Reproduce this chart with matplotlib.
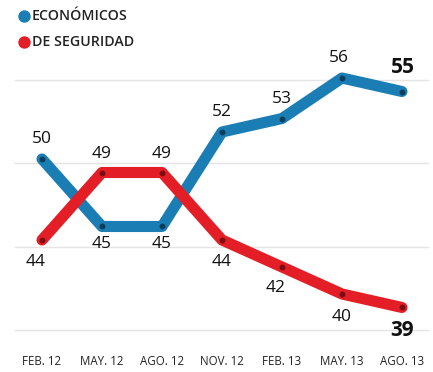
import matplotlib
matplotlib.use("Agg")
import matplotlib.pyplot as plt

periods = ["FEB. 12", "MAY. 12", "AGO. 12", "NOV. 12", "FEB. 13", "MAY. 13", "AGO. 13"]
economicos = [50, 45, 45, 52, 53, 56, 55]
seguridad = [44, 49, 49, 44, 42, 40, 39]
legend_labels = ["ECONÓMICOS", "DE SEGURIDAD"]
grid_levels = [55.85, 49.7, 43.48, 37.33]

blue = "#1a7db3"
red = "#e41e26"
blue_dot = "#0d3d5c"
red_dot = "#7d0c12"
font = "Open Sans"

fig = plt.figure(figsize=(4.33, 3.72), dpi=100)
ax = fig.add_axes([0, 0, 1, 1])
ax.set_xlim(-0.7, 6.517)
ax.set_ylim(34.22, 61.78)
ax.axis("off")

for g in grid_levels:
    ax.plot([-0.45, 6.43], [g, g], color="#e4e4e4", lw=1.0, zorder=1)

x = list(range(len(periods)))
ax.plot(x, economicos, color=blue, lw=8, solid_capstyle="round",
        solid_joinstyle="round", zorder=3)
ax.plot(x, seguridad, color=red, lw=8, solid_capstyle="round",
        solid_joinstyle="round", zorder=4)
ax.scatter(x, economicos, s=18, color=blue_dot, zorder=5, lw=0)
ax.scatter(x, seguridad, s=18, color=red_dot, zorder=6, lw=0)

# value labels (dx in index units, dy in value units)
blue_off = [(0, 1.5), (0, -1.3), (0, -1.3), (0, 1.5), (0, 1.45), (-0.05, 1.45), (0.02, 1.8)]
red_off = [(-0.1, -1.65), (0, 1.4), (0, 1.4), (0, -1.65), (-0.1, -1.55), (0, -1.7), (0, -1.74)]
n = len(periods)
for i, v in enumerate(economicos):
    dx, dy = blue_off[i]
    last = i == n - 1
    ax.text(i + dx, v + dy, str(v), ha="center", va="center",
            fontsize=15 if last else 12.5, fontweight="bold" if last else "normal",
            family=font, color="#111111", zorder=7)
for i, v in enumerate(seguridad):
    dx, dy = red_off[i]
    last = i == n - 1
    ax.text(i + dx, v + dy, str(v), ha="center", va="center",
            fontsize=15 if last else 12.5, fontweight="bold" if last else "normal",
            family=font, color="#111111", zorder=7)

for i, p in enumerate(periods):
    ax.text(i, 35.0, p, ha="center", va="center", fontsize=8.3,
            family=font, color="#222222")

# legend
for k, (lab, col) in enumerate(zip(legend_labels, [blue, red])):
    yv = 61.78 - (16 + 26 * k) / 13.5
    ax.scatter([(24 - 42) / 60], [yv], s=80, color=col, lw=0, zorder=5, clip_on=False)
    ax.text((32 - 42) / 60, yv, lab, ha="left", va="center", fontsize=10.2,
            fontweight="semibold", family=font, color="#222222")

fig.savefig("out.png", dpi=100)
